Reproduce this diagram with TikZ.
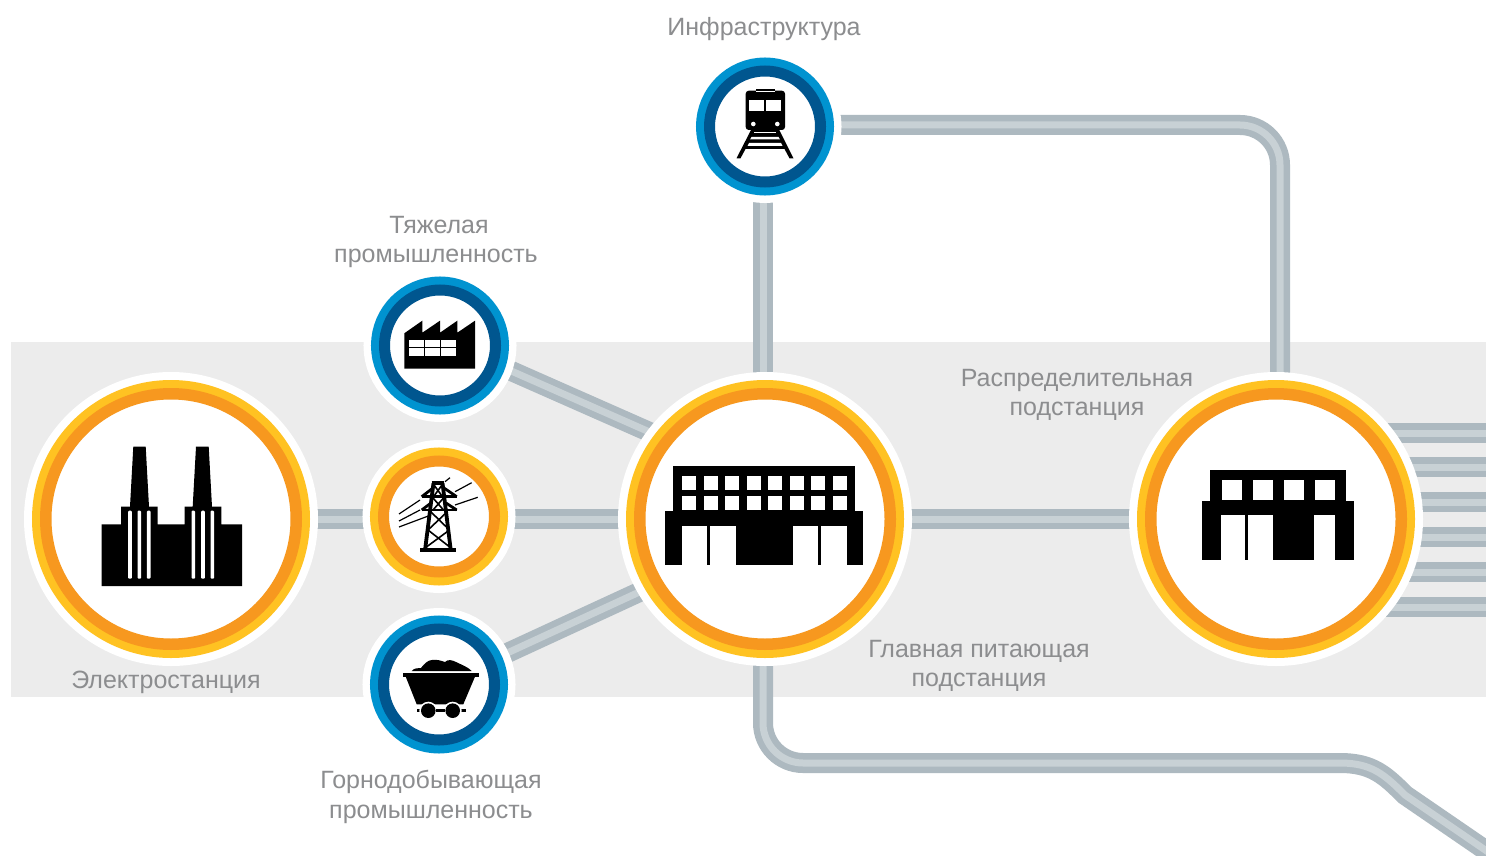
\documentclass[tikz,border=0pt]{standalone}
\usepackage{fontspec}
\setmainfont{Liberation Sans}
\usetikzlibrary{backgrounds}
\definecolor{ringorange}{HTML}{F7981F}
\definecolor{ringyellow}{HTML}{FFC222}
\definecolor{ringdark}{HTML}{00568F}
\definecolor{ringblue}{HTML}{0093D0}
\definecolor{railgrey}{HTML}{ADB9C0}
\definecolor{raillight}{HTML}{C8D1D5}
\definecolor{bandgrey}{HTML}{ECECEC}
\definecolor{labelgrey}{HTML}{8C8D8F}
\begin{document}
\begin{tikzpicture}[x=1pt, y=-1pt,
big_style/.style 2 args={circle, inner sep=0pt, outer sep=0pt, minimum size=250.5pt, fill=white, draw=#1, line width=11.5pt,
  preaction={draw=white, line width=43.5pt}, preaction={draw=#2, line width=27.5pt}},
small_style/.style 2 args={circle, inner sep=0pt, outer sep=0pt, minimum size=111pt, fill=white, draw=#1, line width=11pt,
  preaction={draw=white, line width=42pt}, preaction={draw=#2, line width=27pt}},
rail_style/.style={draw=railgrey, double=raillight, double distance=7pt, line width=6.5pt},
label_style/.style={text=labelgrey, align=center, inner sep=0pt, font=\fontsize{25}{29.7}\selectfont},
icon_style/.style={fill=black},
cut_style/.style={fill=white}]
\useasboundingbox (0,0) rectangle (1486,856);

% stations
\node[big_style={ringorange}{ringyellow}] (plant) at (171,519) {};
\node[big_style={ringorange}{ringyellow}] (hub) at (765,519) {};
\node[big_style={ringorange}{ringyellow}] (sub) at (1276,519) {};
\node[small_style={ringorange}{ringyellow}] (pylon) at (439,516.5) {};
\node[small_style={ringdark}{ringblue}] (train) at (765,126.5) {};
\node[small_style={ringdark}{ringblue}] (heavy) at (440,345.5) {};
\node[small_style={ringdark}{ringblue}] (mine) at (439,684.5) {};

% labels
\node[label_style] (train_label) at (764,29) {Инфраструктура};
\node[label_style] (heavy_label) at (436,242) {\hspace*{6pt}Тяжелая\\промышленность};
\node[label_style] (sub_label) at (1077,395) {Распределительная\\подстанция};
\node[label_style] (hub_label) at (979,666) {Главная питающая\\подстанция};
\node[label_style] (plant_label) at (166,682) {Электростанция};
\node[label_style] (mine_label) at (431,797) {Горнодобывающая\\промышленность};

\coordinate (top_corner) at (1280,125);
\coordinate (low_start) at (763,723);
\coordinate (low_turn) at (803,763);
\coordinate (low_end) at (1340,763);
\coordinate (bend_end) at (1405,795);
\coordinate (rail_end) at (1510,867);

\begin{pgfonlayer}{background}
\fill[white] (0,0) rectangle (1486,856);
\clip (0,0) rectangle (1486,856);
\fill[bandgrey] (11,342) rectangle (1486,697);
\draw[rail_style] (plant) -- (pylon.center |- plant);
\draw[rail_style] (pylon.center |- hub) -- (hub);
\draw[rail_style] (hub) -- (sub);
\draw[rail_style] ([yshift=6pt]heavy.center) -- ([yshift=36pt]hub.center);
\draw[rail_style] (mine.center) -- ([yshift=-15pt]hub.center);
\draw[rail_style] ([xshift=-2pt]train.center) -- ([xshift=-2pt]hub.center);
\draw[rail_style, rounded corners=40pt] (train.center |- top_corner) -- (top_corner) -- (top_corner |- sub);
\draw[rail_style] (low_start |- hub) -- (low_start) .. controls (763,745) and (781,763) .. (low_turn) -- (low_end)
  .. controls (1372,763) and (1385,775) .. (bend_end) -- (rail_end);
\foreach \y in {433,467,502,537,572,607}{
  \coordinate (out\y) at (1486,\y);
  \draw[rail_style] (sub.center |- out\y) -- (out\y);
}
\end{pgfonlayer}

% power plant
\fill[icon_style] (101.7,586) -- (101.7,524.3) -- (121,524.3) -- (121,506.7) -- (130,506.7) -- (133.3,446.7)
  -- (145.7,446.7) -- (149,506.7) -- (157.7,506.7) -- (157.7,524.3) -- (184.7,524.3) -- (184.7,506.7) -- (192.7,506.7)
  -- (196,446.7) -- (208.7,446.7) -- (212,506.7) -- (221.3,506.7) -- (221.3,524.3) -- (242,524.3) -- (242,586) -- cycle;
\foreach \x in {130,139.3,148.7,193.3,203,212.3}
  \fill[cut_style, rounded corners=1pt] (\x-1.8,510.7) rectangle (\x+1.8,578.7);

% big station
\fill[icon_style] (673,466) rectangle (855,511);
\fill[icon_style] (665,511) rectangle (862.7,565);
\foreach \x in {682,704,725,747,768,790,811,833}{
  \fill[cut_style] (\x,476) rectangle (\x+14,490);
  \fill[cut_style] (\x,496) rectangle (\x+14,510);
}
\fill[cut_style] (682,526) rectangle (707,565);
\fill[cut_style] (710,526) rectangle (736,565);
\fill[cut_style] (793,526) rectangle (818,565);
\fill[cut_style] (821,526) rectangle (847,565);

% small station
\fill[icon_style] (1210,470) rectangle (1346,501);
\fill[icon_style] (1202,501) rectangle (1354,560);
\foreach \x in {1222,1253,1284,1315}
  \fill[cut_style] (\x,480) rectangle (\x+20,500);
\fill[cut_style] (1221,515) rectangle (1245,560);
\fill[cut_style] (1248,515) rectangle (1273,560);
\fill[cut_style] (1314,515) rectangle (1335,560);

% train
\fill[icon_style, rounded corners=3pt] (745.7,90.7) rectangle (785,130);
\fill[icon_style] (755.7,89) rectangle (775,92);
\fill[cut_style] (755.7,90.7) rectangle (775,92.2);
\fill[cut_style] (749.3,100) rectangle (764,110.7);
\fill[cut_style] (766.3,100) rectangle (781.3,110.7);
\fill[cut_style] (753.3,124) circle (2.3pt);
\fill[cut_style] (777.3,124) circle (2.3pt);
\fill[icon_style] (751,130) -- (779.3,130) -- (793.5,158.3) -- (789.5,158.3) -- (784.5,149) -- (745.5,149) -- (740.5,158.3) -- (736.5,158.3) -- cycle;
\fill[cut_style] (754,131.8) rectangle (776,133.3);
\fill[cut_style] (751.5,137) -- (778.5,137) -- (780,139.5) -- (750,139.5) -- cycle;
\fill[cut_style] (749,143) -- (781,143) -- (782.5,146) -- (747.5,146) -- cycle;

% factory
\fill[icon_style] (404.3,333.3) -- (422.3,320.7) -- (422.3,332.7) -- (440,320.7) -- (440,332.7) -- (457.3,320.7)
  -- (457.3,332.7) -- (475,320.7) -- (475,368.7) -- (404.3,368.7) -- cycle;
\foreach \x in {409,425,441}{
  \fill[cut_style] (\x,340) rectangle (\x+14.5,347);
  \fill[cut_style] (\x,348.3) rectangle (\x+14.5,356);
}

% pylon
\begin{scope}[draw=black, line width=1.2pt]
\draw (399,514) -- (420,500);
\draw (399,521) -- (420,510);
\draw (399,527) -- (428.3,516);
\draw (455,491.7) -- (471.7,482.7);
\draw (455,505) -- (477.7,497.3);
\draw (445,481.7) -- (450,477.7);
\end{scope}
\fill[icon_style] (420.3,548.3) rectangle (456.3,552.3);
\begin{scope}[draw=black, line width=3.8pt]
\draw (433.5,483) -- (425.3,548);
\draw (442.5,483) -- (450.5,548);
\draw (431.7,483.2) -- (444.3,483.2);
\end{scope}
\begin{scope}[draw=black, line width=2.8pt]
\draw (421.7,496.7) -- (456.7,496.7);
\draw (421.7,496.7) -- (433,488);
\draw (456.7,496.7) -- (444,488);
\draw (421.7,510) -- (456.7,510);
\draw (421.7,510) -- (431,503);
\draw (456.7,510) -- (446,503);
\end{scope}
\begin{scope}[draw=black, line width=1.6pt]
\draw (434,485) -- (442,496) (442,485) -- (434,496);
\draw (433,498) -- (443.5,510) (443.5,498) -- (433,510);
\draw (431,512) -- (449.5,530) (447,512) -- (428,530);
\draw (428,530) -- (451,548) (449.5,530) -- (425,548);
\end{scope}

% mine cart
\fill[icon_style] (411.7,671) .. controls (414,668) and (418,668) .. (421,668) .. controls (424,664) and (428,660) .. (432,660)
  .. controls (436,659) and (442,661) .. (445,662) .. controls (448,659) and (452,660) .. (456,662)
  .. controls (462,665) and (468,667) .. (471.7,671) -- cycle;
\fill[icon_style] (402.7,672.7) rectangle (479.3,676.7);
\fill[icon_style] (405.7,676.7) -- (475,676.7) -- (463.3,704.3) -- (416.7,704.3) -- cycle;
\fill[icon_style] (416.7,709.3) rectangle (466,712.1);
\fill[cut_style] (428.3,710.7) circle (9pt);
\fill[cut_style] (452.7,710.7) circle (9pt);
\fill[icon_style] (428.3,710.7) circle (7.3pt);
\fill[icon_style] (452.7,710.7) circle (7.3pt);
\fill[icon_style] (436,709.3) rectangle (445,712.1);
\end{tikzpicture}
\end{document}
